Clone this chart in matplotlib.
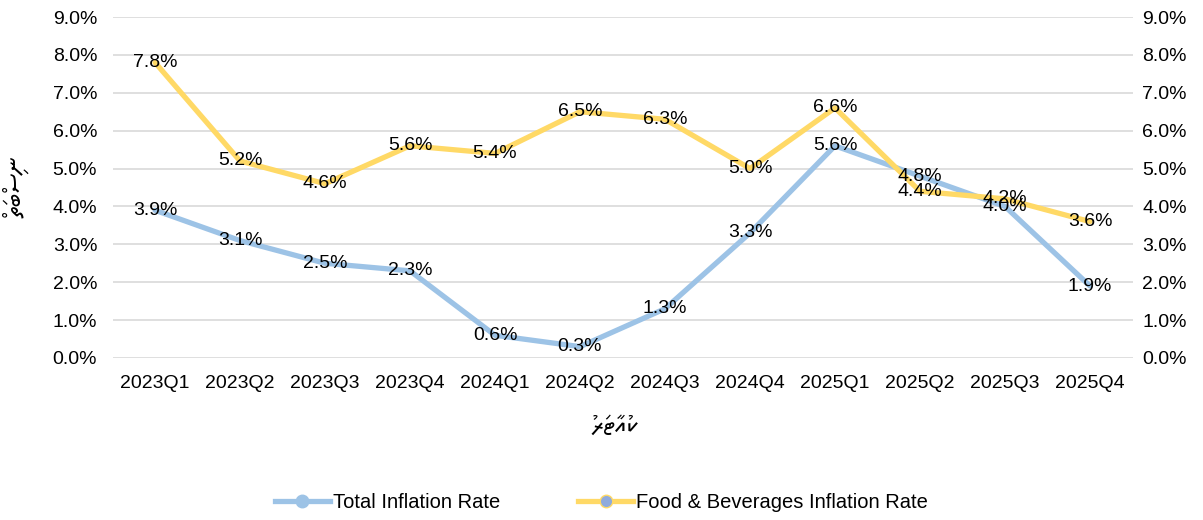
import numpy as np
import matplotlib
matplotlib.use("Agg")
import matplotlib.pyplot as plt
from matplotlib.lines import Line2D
from matplotlib.ticker import PercentFormatter

quarters = ["2023Q1", "2023Q2", "2023Q3", "2023Q4", "2024Q1", "2024Q2",
            "2024Q3", "2024Q4", "2025Q1", "2025Q2", "2025Q3", "2025Q4"]
total_rate = [3.9, 3.1, 2.5, 2.3, 0.6, 0.3, 1.3, 3.3, 5.6, 4.8, 4.0, 1.9]
food_rate = [7.8, 5.2, 4.6, 5.6, 5.4, 6.5, 6.3, 5.0, 6.6, 4.4, 4.2, 3.6]
x_title = "ކުއާޓަރު"
y_title = "ނިސްބަތް"

blue = "#9DC3E6"
yellow = "#FFD966"

plt.rcParams['font.family'] = ['Liberation Sans', 'Noto Sans Thaana', 'DejaVu Sans']

def visual(s):
    # matplotlib has no bidi shaping: lay Thaana out right-to-left by hand
    return s[::-1]

fs = 14

fig = plt.figure(figsize=(12.03, 5.2), dpi=100)
ax = fig.add_axes([112.5/1203, 1 - 358/520, 1020/1203, 341/520])

x = np.arange(len(quarters))
ax.plot(x, total_rate, color=blue, lw=3.8, solid_capstyle='round', zorder=3)
ax.plot(x, food_rate, color=yellow, lw=3.8, solid_capstyle='round', zorder=3)

for xi, v in zip(x, total_rate):
    ax.text(xi, v, f"{v:.1f}%", ha='center', va='center', fontsize=fs, zorder=5)
for xi, v in zip(x, food_rate):
    ax.text(xi, v, f"{v:.1f}%", ha='center', va='center', fontsize=fs, zorder=5)

ax.set_xlim(-0.5, len(quarters) - 0.5)
ax.set_ylim(0, 9)
ax.set_yticks(np.arange(0, 9.5, 1))
ax.yaxis.set_major_formatter(PercentFormatter(decimals=1))
ax.set_xticks(x)
ax.set_xticklabels(quarters)
ax.grid(axis='y', color='#D9D9D9', lw=1.2, zorder=0)
for s in ax.spines.values():
    s.set_visible(False)
ax.tick_params(length=0, labelsize=fs, colors='black', pad=11)
ax.tick_params(axis='x', pad=12)

ax2 = ax.twinx()
ax2.set_ylim(0, 9)
ax2.set_yticks(np.arange(0, 9.5, 1))
ax2.yaxis.set_major_formatter(PercentFormatter(decimals=1))
for s in ax2.spines.values():
    s.set_visible(False)
ax2.tick_params(length=0, labelsize=fs, pad=7)

fig.text(615/1203, 1 - 426/520, visual(x_title), fontsize=18,
         ha='center', va='center')
fig.text(16/1203, 1 - 188/520, visual(y_title), fontsize=18, rotation=90,
         ha='center', va='center')

handles = [
    Line2D([], [], color=blue, lw=3.8, marker='o', markersize=9,
           markerfacecolor=blue, markeredgecolor=blue),
    Line2D([], [], color=yellow, lw=3.8, marker='o', markersize=9,
           markerfacecolor='#8FAADC', markeredgecolor=yellow),
]
fig.legend(handles, ["Total Inflation Rate", "Food & Beverages Inflation Rate"],
           loc='center', bbox_to_anchor=(0.5, 1 - 503/520), ncol=2, frameon=False,
           fontsize=14.5, handlelength=2.7, columnspacing=3.9, handletextpad=0.15)

fig.savefig("out.png", dpi=100)
